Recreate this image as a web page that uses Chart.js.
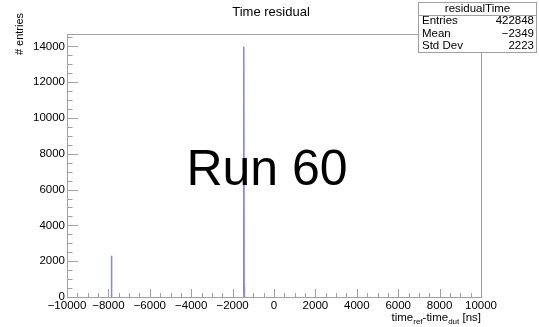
<!DOCTYPE html>
<html>
<head>
<meta charset="utf-8">
<script src="https://cdn.jsdelivr.net/npm/chart.js@4.4.1/dist/chart.umd.min.js"></script>
<style>
  body { margin: 0; background: #fff; }
  #wrap { width: 539px; height: 327px; }
</style>
</head>
<body>
<div id="wrap"><canvas id="chart" width="539" height="327"></canvas></div>
<script>
// histogram bins (ns) and counts around the two spikes, everything else is empty
const peakABins = [-7870, -7860, -7850, -7840, -7830];
const peakACounts = [0, 420, 2310, 380, 0];
const peakBBins = [-1480, -1470, -1460, -1450, -1440, -1430];
const peakBCounts = [0, 1800, 1850, 13990, 560, 0];

const xTicks = [-10000, -8000, -6000, -4000, -2000, 0, 2000, 4000, 6000, 8000, 10000];
const yTicks = [0, 2000, 4000, 6000, 8000, 10000, 12000, 14000];

const statLabels = ['Entries', 'Mean', 'Std Dev'];
const statValues = ['422848', '\u22122349', '2223'];

const FONT = '"Liberation Sans", Arial, Helvetica, sans-serif';
const LINE = 'rgba(104, 104, 222, 0.8)';
const ctx = document.getElementById('chart');

function toPoints(bins, counts) {
    return bins.map((b, i) => ({ x: b, y: counts[i] }));
}

function minusSign(v) {
    return String(v).replace('-', '\u2212');
}

// ROOT style frame, inward ticks, titles and stats box
const rootDecor = {
    id: 'rootDecor',
    afterDraw(chart) {
        const c = chart.ctx;
        const a = chart.chartArea;
        const x = chart.scales.x;
        const y = chart.scales.y;
        c.save();

        c.strokeStyle = '#a0a0a0';
        c.lineWidth = 1;
        c.strokeRect(Math.round(a.left) + 0.5, Math.round(a.top) + 0.5,
            Math.round(a.right - a.left), Math.round(a.bottom - a.top));

        c.beginPath();
        for (let v = x.min; v <= x.max; v += 500) {
            const px = Math.round(x.getPixelForValue(v)) + 0.5;
            const len = v % 2000 === 0 ? 8 : 4;
            c.moveTo(px, a.bottom);
            c.lineTo(px, a.bottom - len);
        }
        for (let v = 0; v <= y.max; v += 500) {
            const py = Math.round(y.getPixelForValue(v)) + 0.5;
            const len = v % 2000 === 0 ? 11 : 5.5;
            c.moveTo(a.left, py);
            c.lineTo(a.left + len, py);
        }
        c.stroke();

        c.fillStyle = '#000';
        // title
        c.font = '13px ' + FONT;
        c.textAlign = 'center';
        c.textBaseline = 'middle';
        c.fillText('Time residual', 271, 12);

        // big label
        c.font = '50px ' + FONT;
        c.fillText('Run 60', 267, 171);

        // y title
        c.save();
        c.translate(20, 34);
        c.rotate(-Math.PI / 2);
        c.font = '11px ' + FONT;
        c.fillText('# entries', 0, 0);
        c.restore();

        // x title with subscripts
        const parts = [['time', 0], ['ref', 1], ['-time', 0], ['dut', 1], [' [ns]', 0]];
        const big = '11.5px ' + FONT, small = '8px ' + FONT;
        let total = 0;
        parts.forEach(p => { c.font = p[1] ? small : big; total += c.measureText(p[0]).width; });
        let cx = a.right - total;
        c.textAlign = 'left';
        c.textBaseline = 'alphabetic';
        parts.forEach(p => {
            c.font = p[1] ? small : big;
            c.fillText(p[0], cx, p[1] ? 324 : 321);
            cx += c.measureText(p[0]).width;
        });

        // stats box
        const bx = 418, by = 2, bw = 119, rh = 12.5;
        c.fillStyle = '#fff';
        c.fillRect(bx, by, bw, rh * 4);
        c.strokeStyle = '#a0a0a0';
        c.strokeRect(bx + 0.5, by + 0.5, bw - 1, rh * 4);
        c.beginPath();
        c.moveTo(bx, Math.round(by + rh) + 0.5);
        c.lineTo(bx + bw, Math.round(by + rh) + 0.5);
        c.stroke();
        c.fillStyle = '#000';
        c.font = '11.5px ' + FONT;
        c.textBaseline = 'middle';
        c.textAlign = 'center';
        c.fillText('residualTime', bx + bw / 2, by + rh / 2 + 0.5);
        statLabels.forEach((lab, i) => {
            const ty = by + rh * (i + 1) + rh / 2 + 0.5;
            c.textAlign = 'left';
            c.fillText(lab, bx + 4, ty);
            c.textAlign = 'right';
            c.fillText(statValues[i], bx + bw - 3, ty);
        });

        c.restore();
    }
};

new Chart(ctx, {
    type: 'scatter',
    data: {
        datasets: [{
            label: 'peak A',
            data: toPoints(peakABins, peakACounts),
            showLine: true,
            borderColor: LINE,
            borderWidth: 1.5,
            pointRadius: 0,
            tension: 0
        }, {
            label: 'peak B',
            data: toPoints(peakBBins, peakBCounts),
            showLine: true,
            borderColor: LINE,
            borderWidth: 1.5,
            pointRadius: 0,
            tension: 0
        }]
    },
    options: {
        responsive: false,
        devicePixelRatio: 1,
        animation: false,
        layout: { padding: { top: 34, right: 58, left: 0, bottom: 0 } },
        plugins: {
            legend: { display: false },
            tooltip: { enabled: false }
        },
        scales: {
            x: {
                type: 'linear',
                min: -10000,
                max: 10000,
                afterFit: s => { s.height = 30; },
                afterBuildTicks: s => { s.ticks = xTicks.map(v => ({ value: v })); },
                grid: { display: false, drawTicks: false },
                border: { display: false },
                ticks: {
                    color: '#000',
                    padding: 2,
                    maxRotation: 0,
                    autoSkip: false,
                    font: { family: FONT, size: 11.5 },
                    callback: v => minusSign(v)
                }
            },
            y: {
                type: 'linear',
                min: 0,
                max: 14690,
                afterFit: s => { s.width = 67; },
                afterBuildTicks: s => { s.ticks = yTicks.map(v => ({ value: v })); },
                grid: { display: false, drawTicks: false },
                border: { display: false },
                ticks: {
                    color: '#000',
                    padding: 2,
                    autoSkip: false,
                    font: { family: FONT, size: 11.5 },
                    callback: v => String(v)
                }
            }
        }
    },
    plugins: [rootDecor]
});
</script>
</body>
</html>
